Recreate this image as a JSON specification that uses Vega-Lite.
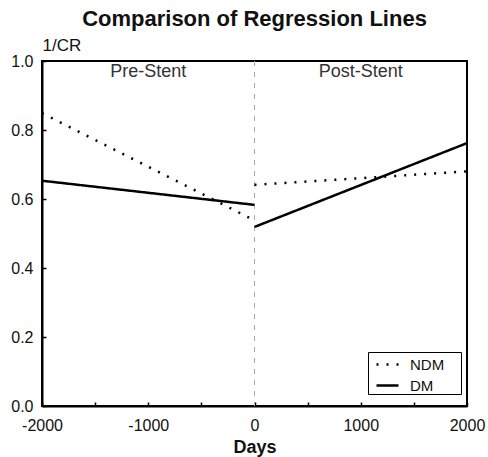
{
  "$schema": "https://vega.github.io/schema/vega-lite/v6.json",
  "width": 425,
  "height": 345,
  "autosize": {"type": "none"},
  "padding": {"left": 42, "top": 61, "right": 21, "bottom": 51},
  "background": "white",
  "title": {"text": "Comparison of Regression Lines", "fontSize": 22, "font": "Liberation Sans", "fontWeight": "bold", "anchor": "middle", "offset": 5, "color": "#111"},
  "config": {
    "view": {"stroke": "black", "strokeWidth": 2},
    "font": "Liberation Sans",
    "axis": {"grid": false, "domainColor": "black", "domainWidth": 2, "tickColor": "black", "tickWidth": 1.5, "tickSize": -4, "labelFont": "Liberation Sans", "labelFontSize": 16, "labelColor": "#111", "titleColor": "#111", "labelFlush": false, "labelOverlap": false}
  },
  "layer": [
    {
      "data": {"values": [{"x": 0}]},
      "mark": {"type": "rule", "color": "#aaaaaa", "strokeWidth": 1, "strokeDash": [5, 6]},
      "encoding": {"x": {"field": "x", "type": "quantitative"}}
    },
    {
      "data": {"values": [
        {"series": "NDM", "phase": "pre", "days": -2000, "value": 0.849},
        {"series": "NDM", "phase": "pre", "days": 0, "value": 0.538},
        {"series": "NDM", "phase": "post", "days": 0, "value": 0.641},
        {"series": "NDM", "phase": "post", "days": 2000, "value": 0.680},
        {"series": "DM", "phase": "pre", "days": -2000, "value": 0.653},
        {"series": "DM", "phase": "pre", "days": 0, "value": 0.583},
        {"series": "DM", "phase": "post", "days": 0, "value": 0.519},
        {"series": "DM", "phase": "post", "days": 2000, "value": 0.762}
      ]},
      "mark": {"type": "line", "color": "black", "strokeWidth": 2.5, "clip": true},
      "encoding": {
        "x": {"field": "days", "type": "quantitative", "scale": {"domain": [-2000, 2000], "nice": false},
          "axis": {"title": "Days", "titleFontSize": 18, "titleFontWeight": "bold", "titlePadding": 5,
            "values": [-2000, -1750, -1500, -1250, -1000, -750, -500, -250, 0, 250, 500, 750, 1000, 1250, 1500, 1750, 2000],
            "labelExpr": "datum.value % 1000 == 0 ? '' + datum.value : ''", "labelPadding": 15}},
        "y": {"field": "value", "type": "quantitative", "scale": {"domain": [0, 1], "nice": false},
          "axis": {"title": "1/CR", "titleAngle": 0, "titleAlign": "left", "titleBaseline": "alphabetic", "titleX": 0, "titleY": -11, "titleFontSize": 17, "titleFontWeight": "normal",
            "values": [0, 0.05, 0.1, 0.15, 0.2, 0.25, 0.3, 0.35, 0.4, 0.45, 0.5, 0.55, 0.6, 0.65, 0.7, 0.75, 0.8, 0.85, 0.9, 0.95, 1.0],
            "labelExpr": "round(datum.value * 20) % 4 == 0 ? format(datum.value, '.1f') : ''", "labelPadding": 13}},
        "detail": {"field": "phase"},
        "strokeDash": {"field": "series", "type": "nominal",
          "scale": {"domain": ["NDM", "DM"], "range": [[2, 8], [1, 0]]},
          "legend": {"title": null, "orient": "none", "legendX": 326, "legendY": 291, "strokeColor": "black", "fillColor": "white", "padding": 0, "labelFontSize": 15, "labelFont": "Liberation Sans", "labelColor": "#111", "symbolType": "stroke", "symbolSize": 484, "symbolOffset": 7, "symbolStrokeColor": "black", "symbolStrokeWidth": 2.5, "rowPadding": -3, "labelOffset": 10, "cornerRadius": 0,
            "labelExpr": "datum.label + '\u00a0\u00a0\u00a0\u00a0\u200b'"}}
      }
    },
    {
      "data": {"values": [
        {"days": -1000, "value": 0.969, "label": "Pre-Stent"},
        {"days": 1000, "value": 0.969, "label": "Post-Stent"}
      ]},
      "mark": {"type": "text", "fontSize": 18, "color": "#333", "font": "Liberation Sans", "baseline": "middle"},
      "encoding": {
        "x": {"field": "days", "type": "quantitative"},
        "y": {"field": "value", "type": "quantitative"},
        "text": {"field": "label"}
      }
    }
  ]
}
